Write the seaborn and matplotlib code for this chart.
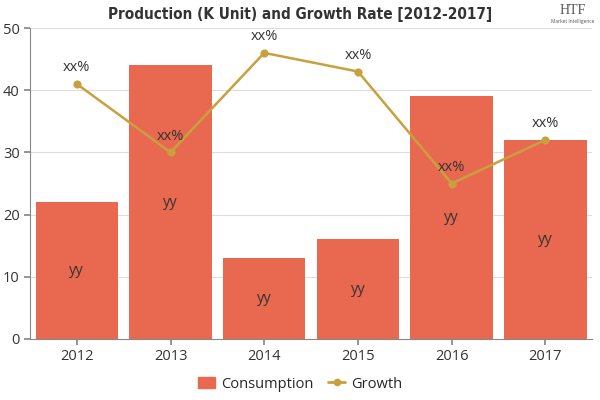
import pandas as pd
import matplotlib.pyplot as plt
import seaborn as sns
from matplotlib.patches import Patch
from matplotlib.lines import Line2D

years = ['2012', '2013', '2014', '2015', '2016', '2017']
consumption = [22, 44, 13, 16, 39, 32]
growth = [41, 30, 46, 43, 25, 32]
bar_labels = ['yy'] * 6
line_labels = ['xx%'] * 6

df = pd.DataFrame({'year': years, 'consumption': consumption, 'growth': growth})

bar_color = '#E8694F'
line_color = '#C9A040'

sns.set_theme(style="white")
plt.rcParams['font.family'] = ['Open Sans', 'DejaVu Sans']

fig = plt.figure(figsize=(6, 4), dpi=100)
ax = fig.add_axes([0.05, 0.1525, 0.937, 0.7775])

sns.barplot(data=df, x='year', y='consumption', color=bar_color, saturation=1,
            width=0.88, linewidth=0, ax=ax, zorder=2)
sns.pointplot(data=df, x='year', y='growth', color=line_color, ax=ax,
              markers='o', markersize=4.5, linewidth=1.8, zorder=4)

for i, (c, g) in enumerate(zip(consumption, growth)):
    ax.text(i, c / 2, bar_labels[i], ha='center', va='center', fontsize=10.5, color='#333333', zorder=5)
    ax.text(i, g + 1.4, line_labels[i], ha='center', va='bottom', fontsize=10.5, color='#333333', zorder=5)

ax.set_ylim(0, 50)
ax.set_xlim(-0.5, 5.5)
ax.set_yticks(range(0, 51, 10))
ax.yaxis.grid(True, color='#dddddd', linewidth=0.8, zorder=0)
ax.set_axisbelow(True)
ax.set_xlabel('')
ax.set_ylabel('')
ax.tick_params(axis='both', labelsize=10.5, length=4, direction='out',
               bottom=True, left=True, colors='#888888')
for s in ['top', 'right']:
    ax.spines[s].set_visible(False)
for s in ['left', 'bottom']:
    ax.spines[s].set_color('#888888')
    ax.spines[s].set_linewidth(0.8)
for lbl in ax.get_xticklabels() + ax.get_yticklabels():
    lbl.set_color('#333333')

fig.text(0.5, 0.965, 'Production (K Unit) and Growth Rate [2012-2017]', ha='center', va='center',
         fontsize=11, fontweight='bold', fontstretch='condensed', color='#333333',
         family=['DejaVu Sans'])

# logo text
fig.text(0.955, 0.975, 'HTF', ha='center', va='center', fontsize=10, color='#555555',
         family=['Liberation Serif', 'DejaVu Serif'])
fig.text(0.955, 0.945, 'Market Intelligence', ha='center', va='center', fontsize=3.5, color='#555555')

handles = [Patch(facecolor=bar_color, edgecolor=bar_color, label='Consumption'),
           Line2D([0], [0], color=line_color, marker='o', markersize=4.5, linewidth=2, label='Growth')]
fig.legend(handles=handles, loc='center', bbox_to_anchor=(0.5, 0.04), ncol=2, frameon=False,
           fontsize=10.5, handlelength=1.2, handletextpad=0.4, columnspacing=1.0)

fig.savefig('out.png', dpi=100)
